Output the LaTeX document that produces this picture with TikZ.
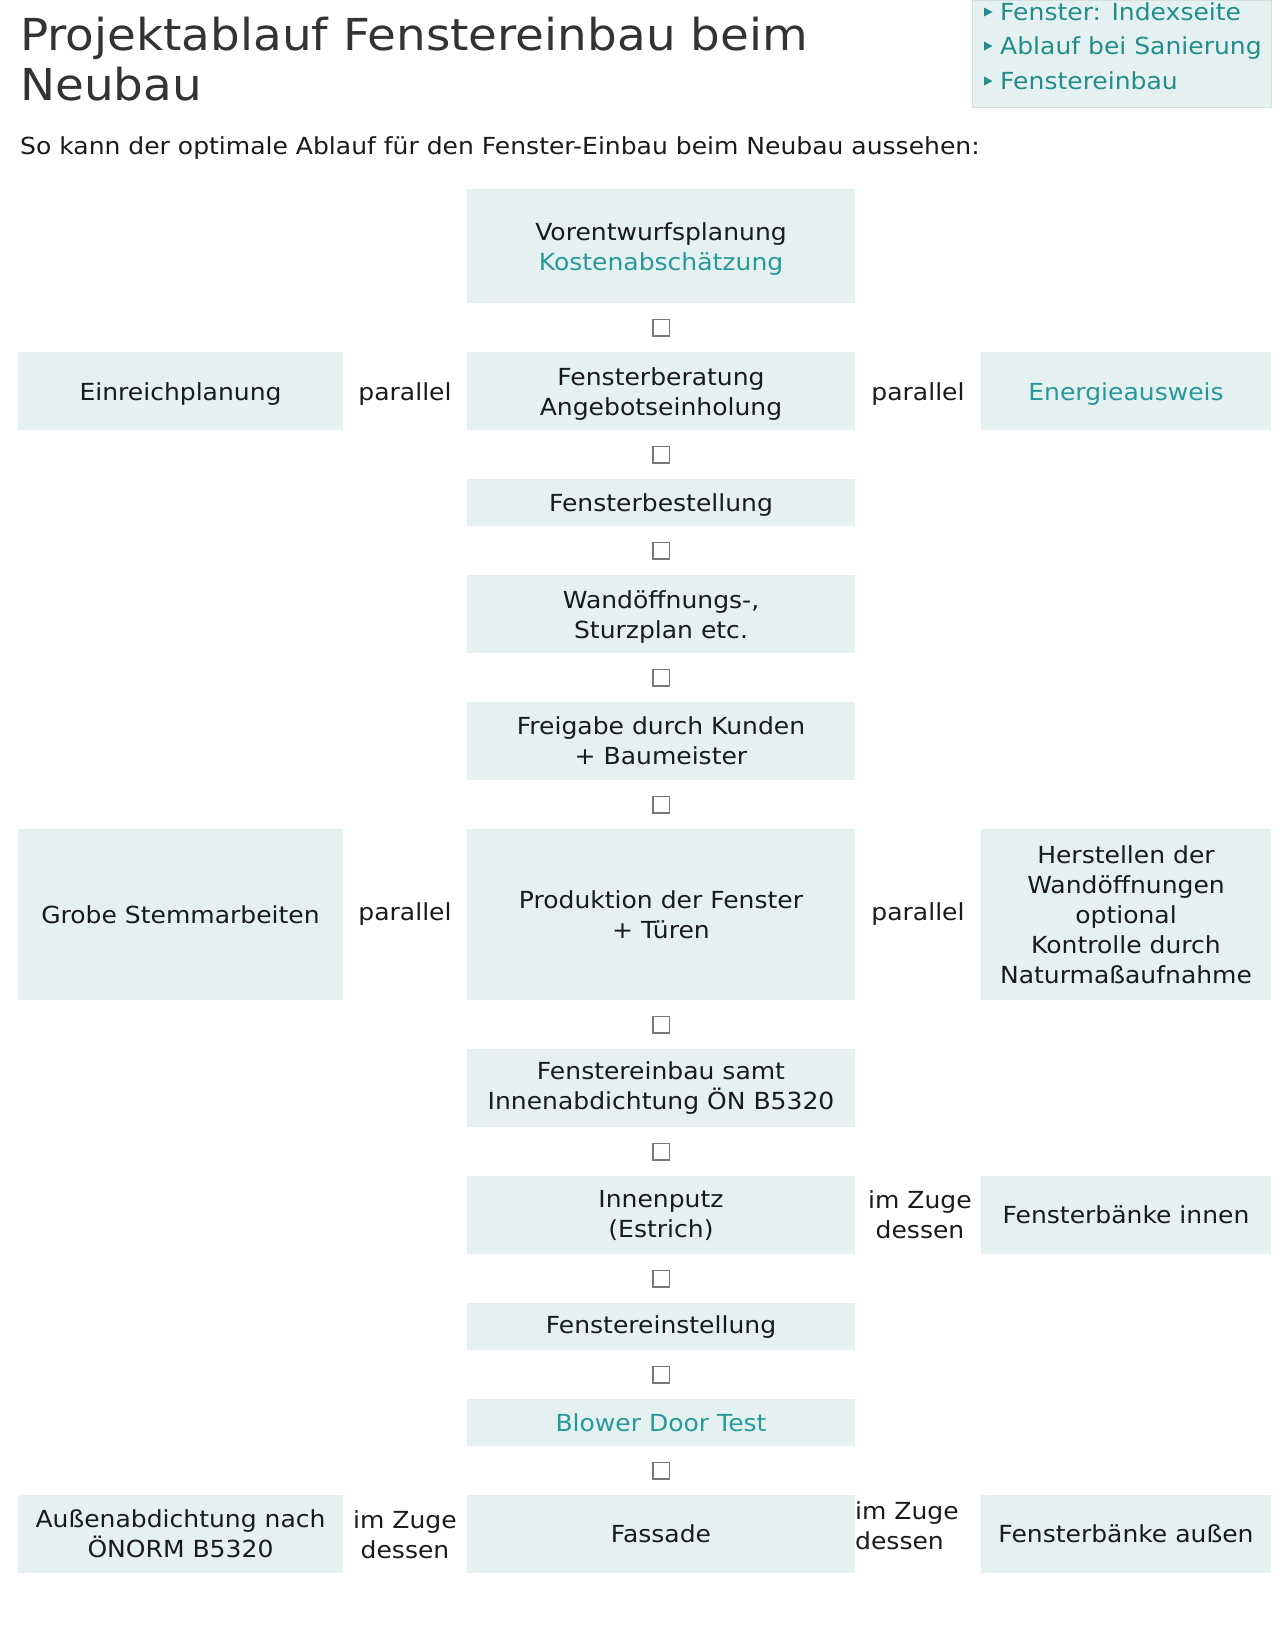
\documentclass[tikz,border=0pt]{standalone}
\usepackage{fontspec}
\setmainfont{DejaVu Sans}[FakeStretch=1.065]
\definecolor{boxfill}{RGB}{229,241,241}
\definecolor{boxline}{RGB}{212,224,224}
\definecolor{teal2}{RGB}{40,152,154}
\definecolor{linkteal}{RGB}{35,140,140}
\definecolor{ink}{RGB}{26,26,26}
\definecolor{titleink}{RGB}{51,51,51}
\definecolor{sqline}{RGB}{120,120,120}
\newcommand{\boxfont}{\fontsize{23.5}{30}\selectfont}
\newcommand{\titlefont}{\fontsize{44}{50}\selectfont}
\begin{document}
\begin{tikzpicture}[x=1pt,y=-1pt,
  cell/.style={fill=boxfill, inner sep=0pt, align=center, font=\boxfont, text=ink, anchor=north},
  mid/.style={cell, minimum width=388pt},
  lft/.style={cell, minimum width=325pt},
  rgt/.style={cell, minimum width=290pt},
  one/.style={minimum height=47pt},
  two/.style={minimum height=78pt},
  conn/.style={inner sep=0pt, align=center, font=\boxfont, text=ink},
  arrowsq/.style={draw=sqline, line width=1.5pt, fill=white, minimum size=16.5pt, inner sep=0pt},
  txt/.style={anchor=base west, inner sep=0pt, font=\boxfont, text=ink},
  linktxt/.style={txt, text=linkteal}]
\useasboundingbox (0,0) rectangle (1280,1626);
% title
\node[txt, font=\titlefont, text=titleink] (t1) at (20,50) {Projektablauf Fenstereinbau beim};
\node[txt, font=\titlefont, text=titleink] (t2) at (20,100) {Neubau};
\node[txt] (sub) at (20,154) {So kann der optimale Ablauf für den Fenster-Einbau beim Neubau aussehen:};
% links box
\node[fill=boxfill, draw=boxline, anchor=north west, minimum width=299pt, minimum height=107pt, inner sep=0pt] (links) at (972,0) {};
\foreach \yy in {20,54,89} {\fill[linkteal] (984,\yy-12.5) -- (992.5,\yy-8) -- (984,\yy-3.5) -- cycle;}
\node[linktxt] (l1) at (1000,20) {Fenster: Indexseite};
\node[linktxt] (l2) at (1000,54) {Ablauf bei Sanierung};
\node[linktxt] (l3) at (1000,89) {Fenstereinbau};
% column (upper boxes: text placed separately, slightly lower)
\node[mid, minimum height=114pt] (vor) at (661,189) {};
\node[conn] (vor-t) at ([yshift=-3pt]vor.center) {Vorentwurfsplanung\\\textcolor{teal2}{Kostenabschätzung}};
\node[arrowsq] (s1) at (661,327.5) {};
\node[lft, two] (einr) at (180.5,352) {};
\node[conn] (einr-t) at ([yshift=-3pt]einr.center) {Einreichplanung};
\node[mid, two] (fber) at (661,352) {};
\node[conn] (fber-t) at ([yshift=-3pt]fber.center) {Fensterberatung\\Angebotseinholung};
\node[rgt, two] (eaus) at (1126,352) {};
\node[conn] (eaus-t) at ([yshift=-3pt]eaus.center) {\textcolor{teal2}{Energieausweis}};
\node[conn] (p1) at (405,394) {parallel};
\node[conn] (p2) at (918,394) {parallel};
\node[arrowsq] (s2) at (661,454.5) {};
\node[mid, one] (fbest) at (661,479) {};
\node[conn] (fbest-t) at ([yshift=-2pt]fbest.center) {Fensterbestellung};
\node[arrowsq] (s3) at (661,550.5) {};
\node[mid, two] (wand) at (661,575) {};
\node[conn] (wand-t) at ([yshift=-2.5pt]wand.center) {Wandöffnungs-,\\Sturzplan etc.};
\node[arrowsq] (s4) at (661,677.5) {};
\node[mid, two] (frei) at (661,702) {Freigabe durch Kunden\\+ Baumeister};
\node[arrowsq] (s5) at (661,804.5) {};
\node[lft, minimum height=171pt] (grob) at (180.5,829) {Grobe Stemmarbeiten};
\node[mid, minimum height=171pt] (prod) at (661,829) {Produktion der Fenster\\+ Türen};
\node[rgt, minimum height=171pt] (herst) at (1126,829) {Herstellen der\\Wandöffnungen\\optional\\Kontrolle durch\\Naturmaßaufnahme};
\node[conn] (p3) at (405,914.5) {parallel};
\node[conn] (p4) at (918,914.5) {parallel};
\node[arrowsq] (s6) at (661,1024.5) {};
\node[mid, two] (feinb) at (661,1049) {Fenstereinbau samt\\Innenabdichtung ÖN B5320};
\node[arrowsq] (s7) at (661,1151.5) {};
\node[mid, two] (innen) at (661,1176) {Innenputz\\(Estrich)};
\node[rgt, two] (fbi) at (1126,1176) {Fensterbänke innen};
\node[conn] (z1) at (920,1215) {im Zuge\\dessen};
\node[arrowsq] (s8) at (661,1278.5) {};
\node[mid, one] (feinst) at (661,1303) {Fenstereinstellung};
\node[arrowsq] (s9) at (661,1374.5) {};
\node[mid, one] (blow) at (661,1399) {\textcolor{teal2}{Blower Door Test}};
\node[arrowsq] (s10) at (661,1470.5) {};
\node[lft, two] (aussen) at (180.5,1495) {Außenabdichtung nach\\ÖNORM B5320};
\node[mid, two] (fass) at (661,1495) {Fassade};
\node[rgt, two] (fba) at (1126,1495) {Fensterbänke außen};
\node[conn] (z2) at (405,1535) {im Zuge\\dessen};
\node[conn, align=left, anchor=west] (z3) at (855,1526) {im Zuge\\dessen};
\end{tikzpicture}
\end{document}
